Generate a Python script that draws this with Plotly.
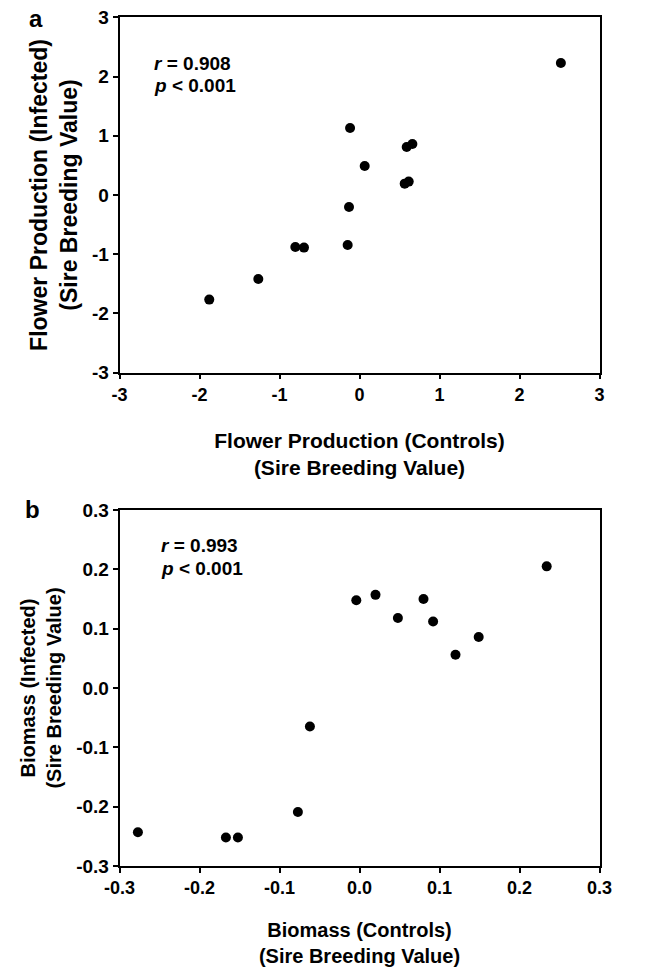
import plotly.graph_objects as go

# Panel a: Flower production
flower_controls = [2.517, -0.118, 0.590, 0.661, 0.065, 0.565, 0.615, -0.131, -0.148, -0.802, -0.694, -1.265, -1.878]
flower_infected = [2.229, 1.132, 0.811, 0.862, 0.490, 0.192, 0.226, -0.202, -0.844, -0.877, -0.888, -1.418, -1.766]

# Panel b: Biomass
biomass_controls = [0.234, -0.004, 0.020, 0.048, 0.080, 0.092, 0.120, 0.149, -0.062, -0.077, -0.277, -0.167, -0.152]
biomass_infected = [0.205, 0.148, 0.157, 0.118, 0.150, 0.112, 0.056, 0.086, -0.065, -0.209, -0.243, -0.252, -0.252]

flower_ticks = [-3, -2, -1, 0, 1, 2, 3]
flower_ticklabels = ["-3", "-2", "-1", "0", "1", "2", "3"]
biomass_ticks = [-0.3, -0.2, -0.1, 0.0, 0.1, 0.2, 0.3]
biomass_ticklabels = ["-0.3", "-0.2", "-0.1", "0.0", "0.1", "0.2", "0.3"]

stats_a = ["<i>r</i> = 0.908", "<i>p</i> < 0.001"]
stats_b = ["<i>r</i> = 0.993", "<i>p</i> < 0.001"]

FONT = "Liberation Sans, Arial, sans-serif"
W, H = 654, 967


def bold(labels):
    return ["<b>" + s + "</b>" for s in labels]


fig = go.Figure()
fig.add_trace(go.Scatter(x=flower_controls, y=flower_infected, mode="markers",
                         marker=dict(color="black", size=10), xaxis="x", yaxis="y",
                         showlegend=False))
fig.add_trace(go.Scatter(x=biomass_controls, y=biomass_infected, mode="markers",
                         marker=dict(color="black", size=10), xaxis="x2", yaxis="y2",
                         showlegend=False))

xdom = [119.5 / W, 599.5 / W]
ydom_a = [1 - 372.7 / H, 1 - 17.3 / H]
ydom_b = [1 - 866 / H, 1 - 510 / H]

axis_common = dict(showline=True, linecolor="black", linewidth=1.5, mirror=True,
                   ticks="outside", ticklen=5, tickwidth=1.5, tickcolor="black",
                   showgrid=False, zeroline=False, automargin=False)
xtickfont = dict(family=FONT, size=18, color="black", weight="bold")
ytickfont = dict(family=FONT, size=19, color="black", weight="bold")


def tfont(size):
    return dict(family=FONT, size=size, color="black")


fig.update_layout(
    template="none",
    width=W, height=H,
    margin=dict(l=0, r=0, t=0, b=0, pad=0),
    plot_bgcolor="white", paper_bgcolor="white",
    font=dict(family=FONT, color="black", size=18),
)
fig.update_layout(
    xaxis=dict(domain=xdom, anchor="y", range=[-3, 3], tickvals=flower_ticks,
               ticktext=bold(flower_ticklabels), tickfont=xtickfont,
               title=dict(text="<b>Flower Production (Controls)<br>(Sire Breeding Value)</b>",
                          font=tfont(21), standoff=29),
               **axis_common),
    yaxis=dict(domain=ydom_a, anchor="x", range=[-3, 3], tickvals=flower_ticks,
               ticktext=bold(flower_ticklabels), tickfont=ytickfont,
               title=dict(text="<b>Flower Production (Infected)<br>(Sire Breeding Value)</b>",
                          font=tfont(23), standoff=8),
               **axis_common),
    xaxis2=dict(domain=xdom, anchor="y2", range=[-0.3, 0.3], tickvals=biomass_ticks,
                ticktext=bold(biomass_ticklabels), tickfont=xtickfont,
                title=dict(text="<b>Biomass (Controls)<br>(Sire Breeding Value)</b>",
                           font=tfont(20), standoff=34),
                **axis_common),
    yaxis2=dict(domain=ydom_b, anchor="x2", range=[-0.3, 0.3], tickvals=biomass_ticks,
                ticktext=bold(biomass_ticklabels), tickfont=ytickfont,
                title=dict(text="<b>Biomass (Infected)<br>(Sire Breeding Value)</b>",
                           font=tfont(20), standoff=9),
                **axis_common),
)

ann_font = dict(family=FONT, size=19, color="black")
annotations = [
    dict(text="<b>a</b>", x=36 / W, y=1 - 18 / H, xref="paper", yref="paper", showarrow=False,
         xanchor="center", yanchor="middle", font=tfont(24)),
    dict(text="<b>b</b>", x=32 / W, y=1 - 509 / H, xref="paper", yref="paper", showarrow=False,
         xanchor="center", yanchor="middle", font=tfont(24)),
    dict(text="<b>" + stats_a[0] + "</b>", x=152 / W, y=1 - 63.5 / H, xref="paper", yref="paper",
         showarrow=False, xanchor="left", yanchor="middle", font=ann_font),
    dict(text="<b>" + stats_a[1] + "</b>", x=152 / W, y=1 - 85 / H, xref="paper", yref="paper",
         showarrow=False, xanchor="left", yanchor="middle", font=ann_font),
    dict(text="<b>" + stats_b[0] + "</b>", x=159 / W, y=1 - 545 / H, xref="paper", yref="paper",
         showarrow=False, xanchor="left", yanchor="middle", font=ann_font),
    dict(text="<b>" + stats_b[1] + "</b>", x=159 / W, y=1 - 568 / H, xref="paper", yref="paper",
         showarrow=False, xanchor="left", yanchor="middle", font=ann_font),
]
fig.update_layout(annotations=annotations)

fig.write_html("out.html")
